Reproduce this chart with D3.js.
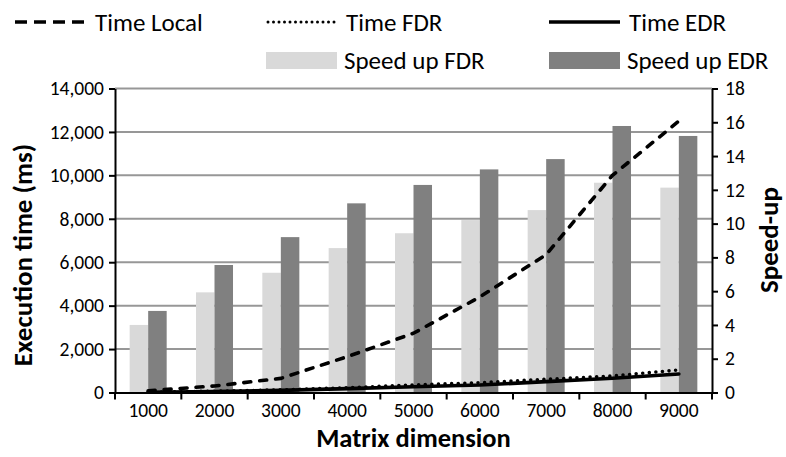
<!DOCTYPE html>
<html>
<head>
<meta charset="utf-8">
<script src="https://cdn.jsdelivr.net/npm/d3@7/dist/d3.min.js"></script>
<style>
  html, body { margin: 0; padding: 0; background: #fff; }
  svg { display: block; font-family: Carlito, Calibri, Lato, sans-serif; }
</style>
</head>
<body>
<svg id="chart" width="786" height="457"></svg>
<script>
// Matrix sizes on the x axis
const categories = ["1000", "2000", "3000", "4000", "5000", "6000", "7000", "8000", "9000"];
// Execution times (ms), left axis
const timeLocal = [80, 300, 650, 1650, 2730, 4400, 6350, 10000, 12500];
const timeFDR = [15, 60, 120, 220, 345, 452, 608, 760, 1037];
const timeEDR = [10, 40, 100, 180, 267, 345, 500, 653, 853];
// Speed-up factors, right axis
const speedupFDR = [4.0, 5.93, 7.09, 8.55, 9.43, 10.21, 10.8, 12.42, 12.13];
const speedupEDR = [4.83, 7.55, 9.2, 11.2, 12.29, 13.21, 13.82, 15.78, 15.19];
// Axis tick values
const timeTicks = [0, 2000, 4000, 6000, 8000, 10000, 12000, 14000];
const speedTicks = [0, 2, 4, 6, 8, 10, 12, 14, 16, 18];

const svg = d3.select("#chart");
const plotLeft = 115, plotRight = 712, plotTop = 88.5, plotBottom = 392.5;

const x = d3.scaleBand().domain(categories).range([plotLeft, plotRight]).paddingInner(0).paddingOuter(0);
const yTime = d3.scaleLinear().domain([0, 14000]).range([plotBottom, plotTop]);
const ySpeed = d3.scaleLinear().domain([0, 18]).range([plotBottom, plotTop]);
const barW = x.bandwidth() * 0.279;
const cx = c => x(c) + x.bandwidth() / 2;

// Horizontal gridlines
svg.append("g").selectAll("line").data(timeTicks.filter(t => t > 0)).join("line")
  .attr("x1", plotLeft).attr("x2", plotRight)
  .attr("y1", d => yTime(d)).attr("y2", d => yTime(d))
  .attr("stroke", "#979797").attr("stroke-width", 2);

// Speed-up bars
const bars = svg.append("g");
bars.selectAll("rect.fdr").data(categories).join("rect").attr("class", "fdr")
  .attr("x", c => cx(c) - barW)
  .attr("width", barW)
  .attr("y", (c, i) => ySpeed(speedupFDR[i]))
  .attr("height", (c, i) => plotBottom - ySpeed(speedupFDR[i]))
  .attr("fill", "#d9d9d9");
bars.selectAll("rect.edr").data(categories).join("rect").attr("class", "edr")
  .attr("x", c => cx(c))
  .attr("width", barW)
  .attr("y", (c, i) => ySpeed(speedupEDR[i]))
  .attr("height", (c, i) => plotBottom - ySpeed(speedupEDR[i]))
  .attr("fill", "#808080");

// Execution time lines
const line = d3.line().x((d, i) => cx(categories[i])).y(d => yTime(d));
const lines = svg.append("g").attr("fill", "none").attr("stroke", "#000");
lines.append("path").datum(timeFDR).attr("d", line)
  .attr("stroke-width", 3.6).attr("stroke-linecap", "round").attr("stroke-dasharray", "0,6.6");
lines.append("path").datum(timeEDR).attr("d", line)
  .attr("stroke-width", 3.6).attr("stroke-linecap", "round");
lines.append("path").datum(timeLocal).attr("d", line)
  .attr("stroke-width", 3.6).attr("stroke-linecap", "round").attr("stroke-dasharray", "7,9");

// Axes
const axisFont = g => g.selectAll("text").attr("font-size", 19.5).attr("fill", "#000")
  .style("font-family", "Carlito, Calibri, Lato, sans-serif");
const axisLines = g => { g.select(".domain").attr("stroke", "#000").attr("stroke-width", 2);
  g.selectAll(".tick line").attr("stroke", "#000").attr("stroke-width", 2); };

svg.append("g").attr("transform", `translate(${plotLeft},0)`)
  .call(d3.axisLeft(yTime).tickValues(timeTicks).tickFormat(d3.format(",")).tickSizeInner(6).tickSizeOuter(0).tickPadding(5))
  .call(axisFont).call(axisLines);

svg.append("g").attr("transform", `translate(${plotRight},0)`)
  .call(d3.axisRight(ySpeed).tickValues(speedTicks).tickSizeInner(6).tickSizeOuter(0).tickPadding(7))
  .call(axisFont).call(axisLines);

const xAxis = svg.append("g").attr("transform", `translate(0,${plotBottom})`)
  .call(d3.axisBottom(x).tickSize(0).tickPadding(11))
  .call(axisFont).call(axisLines);
// tick marks on band boundaries
xAxis.selectAll("line.sep").data(categories.concat(["end"])).join("line").attr("class", "sep")
  .attr("x1", (c, i) => i < categories.length ? x(c) : plotRight)
  .attr("x2", (c, i) => i < categories.length ? x(c) : plotRight)
  .attr("y1", 0).attr("y2", 7).attr("stroke", "#000").attr("stroke-width", 2);

// Axis titles
svg.append("text").attr("x", (plotLeft + plotRight) / 2).attr("y", 447)
  .attr("text-anchor", "middle").attr("font-size", 26.5).attr("font-weight", "bold")
  .text("Matrix dimension");
svg.append("text").attr("transform", "translate(32,255) rotate(-90)")
  .attr("text-anchor", "middle").attr("font-size", 27).attr("font-weight", "bold")
  .text("Execution time (ms)");
svg.append("text").attr("transform", "translate(778,240) rotate(-90)")
  .attr("text-anchor", "middle").attr("font-size", 27).attr("font-weight", "bold")
  .text("Speed-up");

// Legend
const legend = svg.append("g").attr("font-size", 25);
const lineItems = [
  { name: "Time Local", x: 15, dash: "12,7" },
  { name: "Time FDR", x: 266, dash: "0,5.5" },
  { name: "Time EDR", x: 549, dash: null }
];
lineItems.forEach(it => {
  const dotted = it.dash && it.dash.startsWith("0");
  legend.append("line").attr("x1", it.x + (dotted ? 2 : 0)).attr("x2", it.x + 71).attr("y1", 22).attr("y2", 22)
    .attr("stroke", "#000").attr("stroke-width", dotted ? 3 : 3.6)
    .attr("stroke-linecap", dotted ? "round" : "butt")
    .attr("stroke-dasharray", it.dash);
  legend.append("text").attr("x", it.x + 80).attr("y", 31).text(it.name);
});
const barItems = [
  { name: "Speed up FDR", x: 266, fill: "#d9d9d9" },
  { name: "Speed up EDR", x: 549, fill: "#808080" }
];
barItems.forEach(it => {
  legend.append("rect").attr("x", it.x).attr("y", 52).attr("width", 71).attr("height", 17).attr("fill", it.fill);
  legend.append("text").attr("x", it.x + 78).attr("y", 69).text(it.name);
});
</script>
</body>
</html>
